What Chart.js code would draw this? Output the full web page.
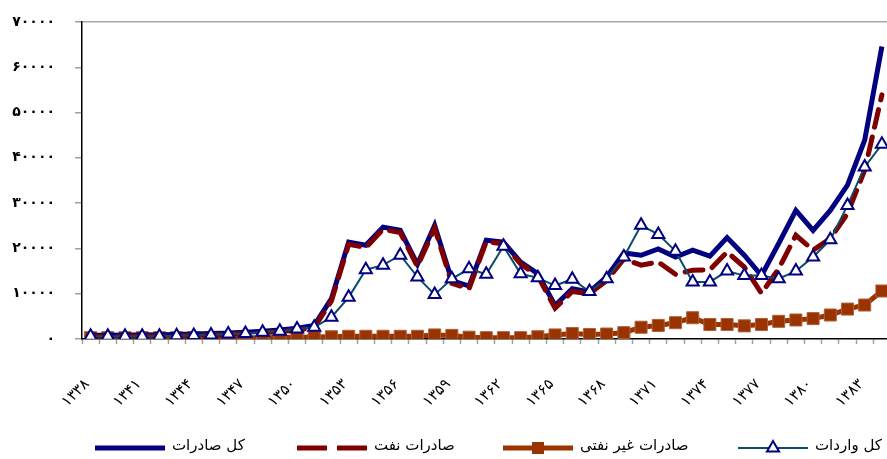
<!DOCTYPE html>
<html lang="fa">
<head>
<meta charset="UTF-8">
<title>Exports and imports</title>
<script src="https://cdn.jsdelivr.net/npm/chart.js@4.4.1/dist/chart.umd.min.js"></script>
<style>
  html, body { margin: 0; padding: 0; background: #fff; overflow: hidden; width: 887px; height: 459px; }
  canvas { display: block; }
</style>
</head>
<body>
<canvas id="tradeChart" width="900" height="459"></canvas>
<script>
// years 1338 .. 1384
const years = ['۱۳۳۸','۱۳۳۹','۱۳۴۰','۱۳۴۱','۱۳۴۲','۱۳۴۳','۱۳۴۴','۱۳۴۵','۱۳۴۶','۱۳۴۷',
  '۱۳۴۸','۱۳۴۹','۱۳۵۰','۱۳۵۱','۱۳۵۲','۱۳۵۳','۱۳۵۴','۱۳۵۵','۱۳۵۶','۱۳۵۷',
  '۱۳۵۸','۱۳۵۹','۱۳۶۰','۱۳۶۱','۱۳۶۲','۱۳۶۳','۱۳۶۴','۱۳۶۵','۱۳۶۶','۱۳۶۷',
  '۱۳۶۸','۱۳۶۹','۱۳۷۰','۱۳۷۱','۱۳۷۲','۱۳۷۳','۱۳۷۴','۱۳۷۵','۱۳۷۶','۱۳۷۷',
  '۱۳۷۸','۱۳۷۹','۱۳۸۰','۱۳۸۱','۱۳۸۲','۱۳۸۳','۱۳۸۴'];

const totalExports = [850, 850, 900, 900, 950, 1000, 1100, 1200, 1300, 1500,
  1700, 2000, 2400, 3000, 8900, 21400, 20700, 24700, 24000, 16500,
  25100, 12900, 11700, 21800, 21400, 17000, 14400, 7400, 11100, 10400,
  13700, 19000, 18500, 19900, 18100, 19600, 18300, 22400, 18500, 14000,
  21100, 28400, 24000, 28400, 34000, 43900, 64600];

const oilExports = [550, 550, 600, 600, 650, 700, 800, 900, 1000, 1200,
  1400, 1650, 2000, 2500, 8400, 20900, 20200, 24200, 23500, 16000,
  24500, 12300, 11100, 21500, 21000, 16600, 13900, 6800, 10500, 10000,
  12900, 17700, 16300, 17000, 14300, 15200, 15300, 19200, 15900, 10100,
  15500, 22900, 19600, 22200, 27700, 37300, 53900];

const nonOilExports = [300, 300, 300, 300, 300, 300, 300, 300, 300, 300,
  300, 350, 400, 450, 500, 600, 600, 600, 600, 600,
  900, 800, 400, 300, 300, 300, 500, 900, 1200, 1000,
  1100, 1400, 2600, 3000, 3600, 4700, 3200, 3200, 2900, 3200,
  3900, 4200, 4500, 5300, 6600, 7500, 10600];

const totalImports = [600, 600, 600, 600, 600, 700, 800, 900, 1100, 1200,
  1500, 1700, 2200, 2600, 4800, 9200, 15300, 16300, 18500, 13700,
  9800, 13300, 15500, 14300, 20500, 14400, 13500, 11800, 13200, 10500,
  13300, 18100, 25100, 23100, 19400, 12600, 12600, 15000, 14000, 14000,
  13300, 15000, 18100, 21900, 29500, 38000, 43000];

const yTicks = [0, 10000, 20000, 30000, 40000, 50000, 60000, 70000];

const faDigits = '۰۱۲۳۴۵۶۷۸۹';
function toFa(n) {
  return String(n).replace(/\d/g, d => faDigits[d]);
}

const FONT = "'DejaVu Sans', sans-serif";

// legend drawn under the plot, left to right
const legendPlugin = {
  id: 'bottomLegend',
  afterDraw(chart) {
    const ctx = chart.ctx;
    const y = 448;
    const items = [
      { ds: 0, x: 95 },
      { ds: 1, x: 297 },
      { ds: 2, x: 503 },
      { ds: 3, x: 738 }
    ];
    ctx.save();
    items.forEach(it => {
      const d = chart.data.datasets[it.ds];
      const x0 = it.x, x1 = it.x + 70;
      ctx.beginPath();
      ctx.strokeStyle = d.borderColor;
      ctx.lineWidth = d.borderWidth;
      ctx.lineCap = 'butt';
      ctx.setLineDash(d.borderDash ? [30, 10] : []);
      ctx.moveTo(x0, y);
      ctx.lineTo(x1, y);
      ctx.stroke();
      ctx.setLineDash([]);
      const cx = (x0 + x1) / 2;
      if (d.pointStyle === 'rect') {
        ctx.fillStyle = d.pointBackgroundColor;
        ctx.fillRect(cx - 6, y - 6, 12, 12);
      } else if (d.pointStyle === 'triangle') {
        const r = d.pointRadius;
        ctx.beginPath();
        ctx.moveTo(cx, y - r);
        ctx.lineTo(cx + r * 0.866, y + r * 0.5);
        ctx.lineTo(cx - r * 0.866, y + r * 0.5);
        ctx.closePath();
        ctx.fillStyle = '#fff';
        ctx.fill();
        ctx.strokeStyle = d.pointBorderColor;
        ctx.lineWidth = 2;
        ctx.stroke();
      }
      ctx.fillStyle = '#000';
      ctx.font = '15px ' + FONT;
      ctx.textAlign = 'left';
      ctx.textBaseline = 'middle';
      ctx.fillText(d.label, x1 + 7, y - 2);
    });
    ctx.restore();
  }
};

const ctx = document.getElementById('tradeChart').getContext('2d');
new Chart(ctx, {
  type: 'line',
  data: {
    labels: years,
    datasets: [
      {
        label: 'کل صادرات',
        data: totalExports,
        borderColor: '#000080',
        backgroundColor: '#000080',
        borderWidth: 5,
        pointRadius: 0,
        order: 2
      },
      {
        label: 'صادرات نفت',
        data: oilExports,
        borderColor: '#800000',
        backgroundColor: '#800000',
        borderWidth: 5,
        borderDash: [18, 10],
        borderCapStyle: 'round',
        pointRadius: 0,
        order: 1
      },
      {
        label: 'صادرات غیر نفتی',
        data: nonOilExports,
        borderColor: '#993300',
        backgroundColor: '#993300',
        borderWidth: 5,
        pointStyle: 'rect',
        pointRadius: 8.5,
        pointBackgroundColor: '#993300',
        pointBorderColor: '#b0603a',
        pointBorderWidth: 1,
        order: 3
      },
      {
        label: 'کل واردات',
        data: totalImports,
        borderColor: '#0d4a6b',
        backgroundColor: '#ffffff',
        borderWidth: 2,
        pointStyle: 'triangle',
        pointRadius: 7,
        pointBackgroundColor: '#ffffff',
        pointBorderColor: '#000080',
        pointBorderWidth: 2,
        order: 0
      }
    ]
  },
  options: {
    responsive: false,
    animation: false,
    devicePixelRatio: 1,
    events: [],
    layout: { padding: { top: 22, right: 5, left: 0, bottom: 0 } },
    elements: { line: { tension: 0 } },
    plugins: {
      legend: { display: false },
      tooltip: { enabled: false }
    },
    scales: {
      x: {
        offset: true,
        afterFit(scale) {
          scale.height = 120;
          scale.paddingLeft = 0;
          scale.paddingRight = 0;
        },
        grid: {
          offset: true,
          drawOnChartArea: false,
          tickLength: 5,
          tickColor: '#a0a0a0',
          tickWidth: 1.5
        },
        border: { color: '#000', width: 1.5 },
        ticks: {
          autoSkip: false,
          maxRotation: 45,
          minRotation: 45,
          padding: 28,
          color: '#000',
          font: { family: FONT, size: 15 },
          callback: (val, idx) => idx % 3 === 0 ? years[idx] + ' ' : ''
        }
      },
      y: {
        min: 0,
        max: 70000,
        afterFit(scale) {
          scale.width = 82;
          scale.paddingTop = 0;
          scale.paddingBottom = 0;
        },
        afterBuildTicks(scale) { scale.ticks = yTicks.map(v => ({ value: v })); },
        grid: {
          drawOnChartArea: true,
          color: c => (c.tick && c.tick.value === 70000) ? '#a8a8a8' : 'rgba(0,0,0,0)',
          lineWidth: 1.5,
          tickLength: 7,
          tickColor: '#a0a0a0',
          tickWidth: 1.5
        },
        border: { color: '#000', width: 1.5 },
        ticks: {
          padding: 20,
          color: '#000',
          font: { family: FONT, size: 14, weight: 'bold' },
          callback: v => toFa(v)
        }
      }
    }
  },
  plugins: [legendPlugin]
});
</script>
</body>
</html>
